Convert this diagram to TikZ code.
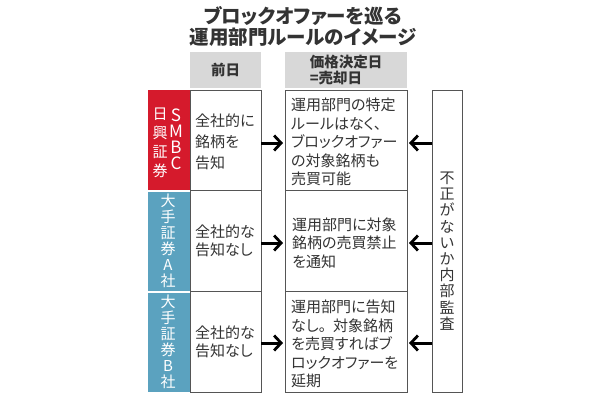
\documentclass[tikz,border=0pt]{standalone}
\usepackage{fontspec}
\newfontfamily\cjk{Noto Sans CJK JP}
\newfontfamily\cjkp[RawFeature=+palt]{Noto Sans CJK JP}
\usetikzlibrary{arrows.meta}
\definecolor{smbcred}{HTML}{D51A2C}
\definecolor{bigblue}{HTML}{5BA2BF}
\definecolor{hdrgray}{HTML}{D8D8D8}
\definecolor{edgegray}{HTML}{555555}
\definecolor{txtgray}{HTML}{333333}
\tikzset{
  px/.style={x=1pt,y=-1pt},
  cell/.style={draw=edgegray,line width=0.8pt,fill=white},
  hdr/.style={fill=hdrgray,draw=none},
  bodytxt/.style={font=\cjkp\fontsize{15}{18.5}\selectfont,text=txtgray,align=left,inner sep=0pt},
  vtxt/.style={font=\cjk\fontsize{15}{16}\selectfont,text=white,align=center,inner sep=0pt},
  arr/.style={line width=3pt,-{Straight Barb[length=7pt,width=15pt,line width=2.8pt]}},
}
\begin{document}
\begin{tikzpicture}[px]
\useasboundingbox (0,0) rectangle (610,400);
\fill[white] (0,0) rectangle (610,400);
% title
\node[font=\cjkp\bfseries\fontsize{19.5}{21}\selectfont,text=txtgray,align=center,inner sep=0pt] (title) at (303,26.5) {ブロックオファーを巡る\\運用部門ルールのイメージ};
% headers
\fill[hdr] (190,52) rectangle (261,88);
\node[font=\cjk\bfseries\fontsize{14.5}{16}\selectfont,text=txtgray,inner sep=0pt] (h1) at (225.5,70) {前日};
\fill[hdr] (285,52) rectangle (407,88);
\node[font=\cjk\bfseries\fontsize{14.5}{15.5}\selectfont,text=txtgray,align=left,inner sep=0pt] (h2) at (346,70) {価格決定日\\=売却日};
% left labels
\fill[smbcred] (148,90) rectangle (190,190);
\node[vtxt,font=\cjk\fontsize{17}{16}\selectfont] (smbc) at (176,139) {S\\M\\B\\C};
\node[vtxt,font=\cjk\fontsize{15}{19}\selectfont] (nikko) at (160,143) {日\\興\\証\\券};
\fill[bigblue] (148,192) rectangle (190,291);
\node[vtxt] (a) at (168,241) {大\\手\\証\\券\\A\\社};
\fill[bigblue] (148,293) rectangle (190,392);
\node[vtxt] (b) at (168,342) {大\\手\\証\\券\\B\\社};
% left white cells
\draw[cell] (190,90) rectangle (261,190);
\draw[cell] (190,190) rectangle (261,291);
\draw[cell] (190,291) rectangle (261,392);
\node[bodytxt,font=\cjkp\fontsize{15}{21}\selectfont,anchor=west] (l1) at (195,142) {全社的に\\銘柄を\\告知};
\node[bodytxt,anchor=west] (l2) at (195,241) {全社的な\\告知なし};
\node[bodytxt,anchor=west] (l3) at (195,342) {全社的な\\告知なし};
% center cells
\draw[cell] (285,90) rectangle (407,190);
\draw[cell] (285,190) rectangle (407,291);
\draw[cell] (285,291) rectangle (407,392);
\node[bodytxt,anchor=west] (c1) at (291,142) {運用部門の特定\\ルールはなく、\\ブロックオファー\\の対象銘柄も\\売買可能};
\node[bodytxt,anchor=west] (c2) at (292,243) {運用部門に対象\\銘柄の売買禁止\\を通知};
\node[bodytxt,anchor=west] (c3) at (291,344) {運用部門に告知\\なし。\hspace{7pt}対象銘柄\\を売買すればブ\\ロックオファーを\\延期};
% right cell
\draw[cell] (432,90) rectangle (462,392);
\node[vtxt,text=txtgray,font=\cjk\fontsize{15}{16.2}\selectfont] (audit) at (447,251) {不\\正\\が\\な\\い\\か\\内\\部\\監\\査};
% arrows
\coordinate (r1s) at (261,143); \coordinate (r1e) at (283,143);
\coordinate (r2s) at (261,243); \coordinate (r2e) at (283,243);
\coordinate (r3s) at (261,343); \coordinate (r3e) at (283,343);
\coordinate (q1s) at (432,143); \coordinate (q1e) at (409,143);
\coordinate (q2s) at (432,243); \coordinate (q2e) at (409,243);
\coordinate (q3s) at (432,343); \coordinate (q3e) at (409,343);
\draw[arr] (r1s) -- (r1e);
\draw[arr] (r2s) -- (r2e);
\draw[arr] (r3s) -- (r3e);
\draw[arr] (q1s) -- (q1e);
\draw[arr] (q2s) -- (q2e);
\draw[arr] (q3s) -- (q3e);
\end{tikzpicture}
\end{document}
